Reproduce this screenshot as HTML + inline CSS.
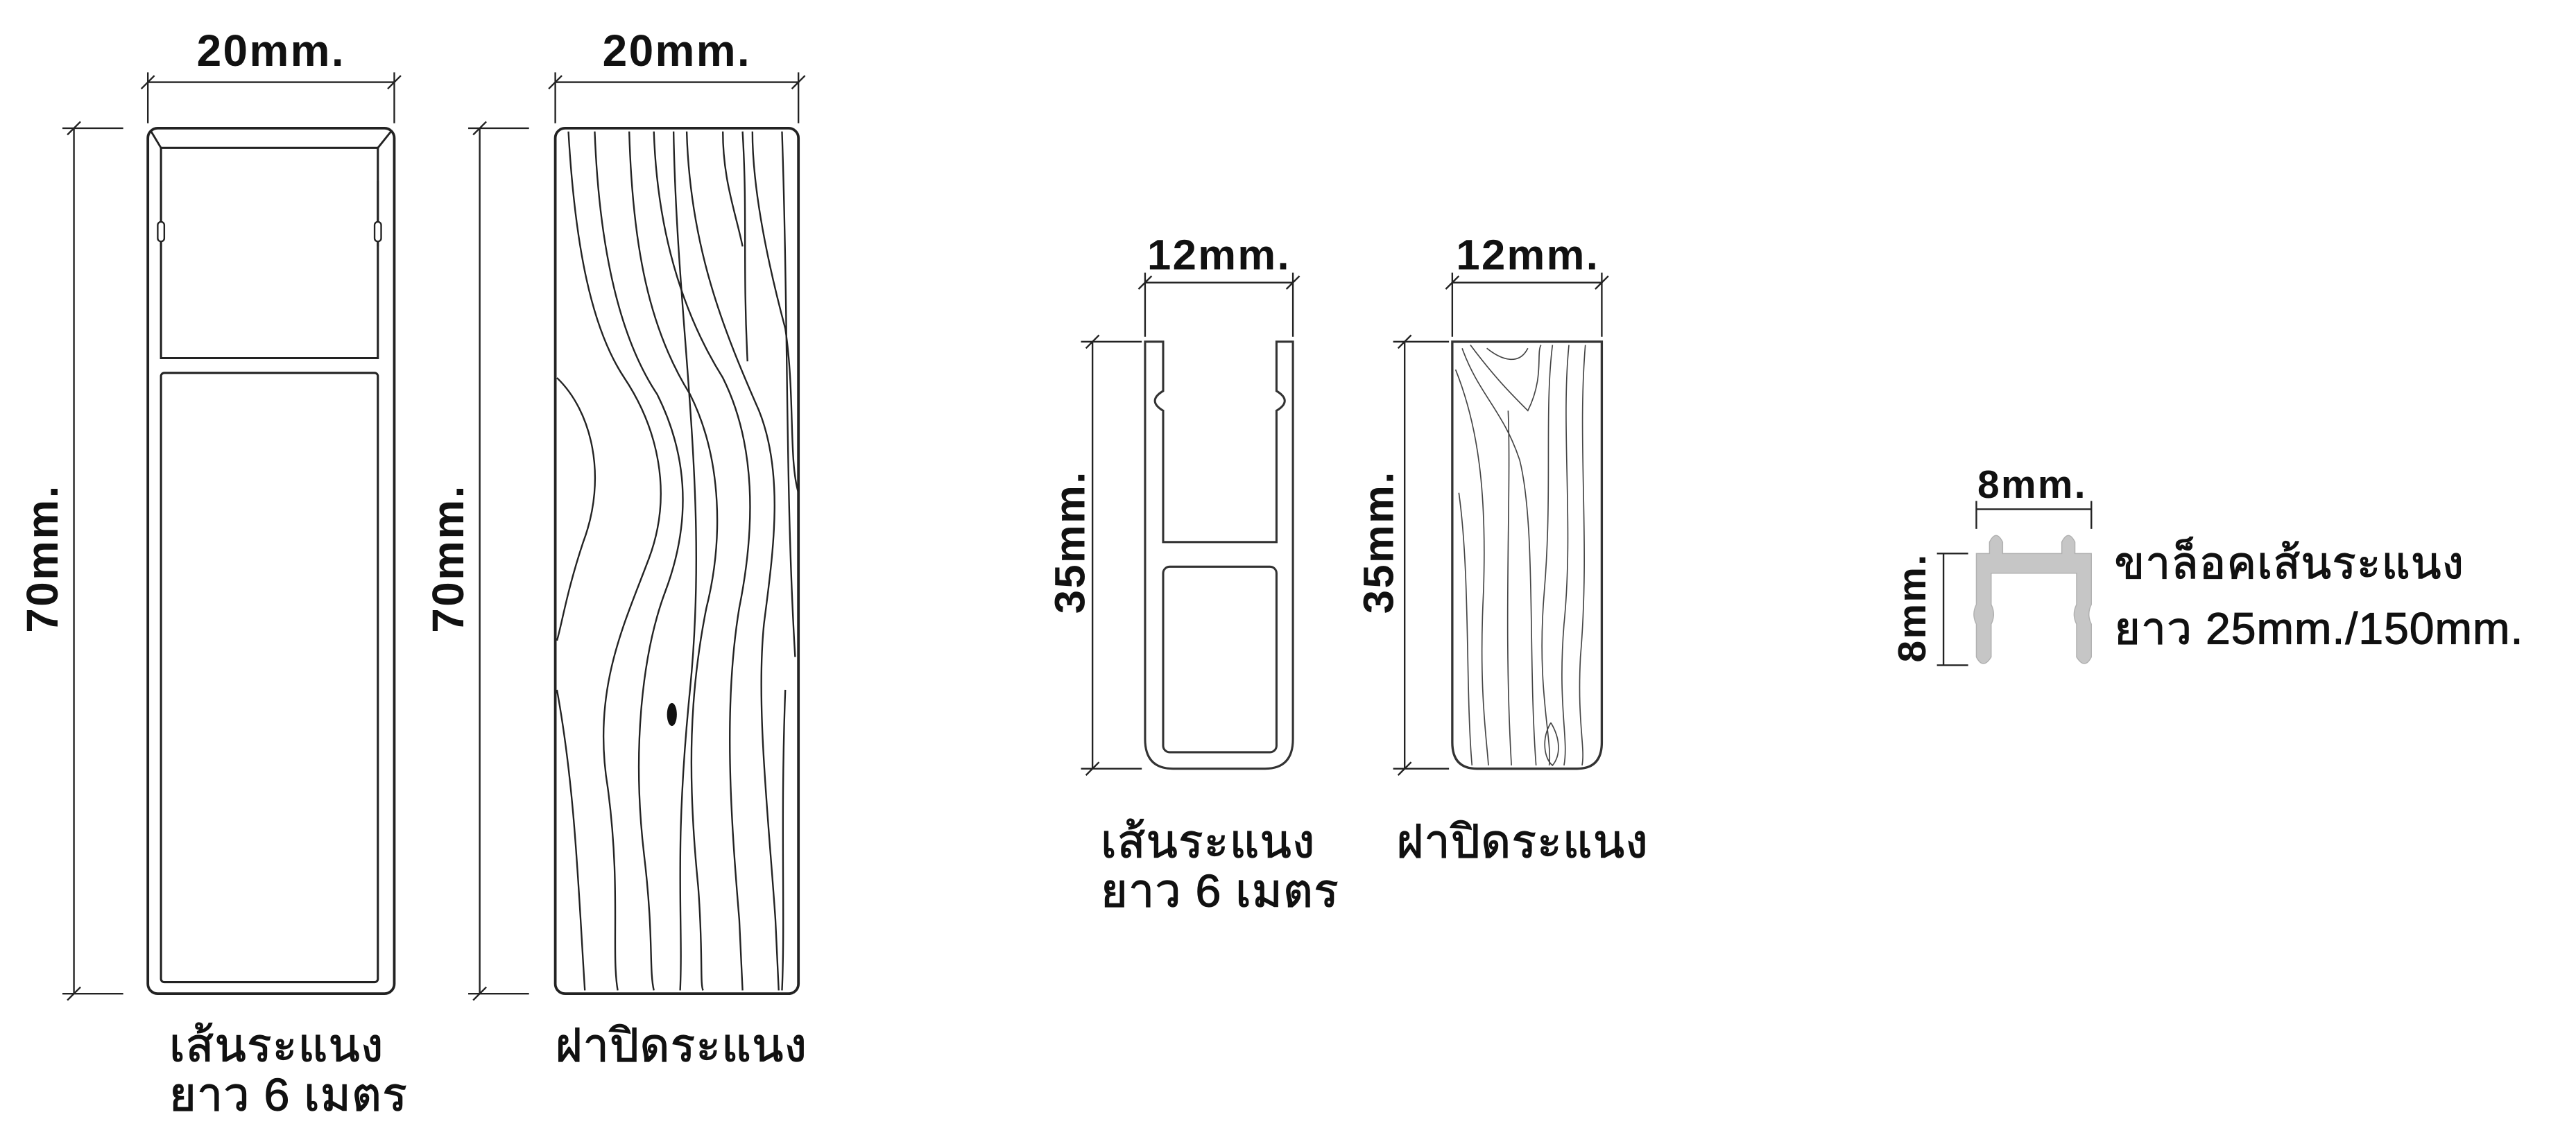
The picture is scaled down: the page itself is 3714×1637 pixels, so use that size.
<!DOCTYPE html>
<html><head><meta charset="utf-8"><style>
html,body{margin:0;padding:0;background:#fff;}
svg{display:block;}
text{font-family:"Liberation Sans","Noto Sans CJK SC","WenQuanYi Zen Hei",sans-serif;fill:#111;font-weight:bold;letter-spacing:1px;}
.t{font-weight:normal;stroke:#111;stroke-width:0.5;letter-spacing:0.5px;}
</style></head><body>
<svg width="3714" height="1637" viewBox="0 0 1568 691" xmlns="http://www.w3.org/2000/svg">
<g stroke="#222" stroke-width="1" fill="none">
<line x1="90" y1="50" x2="240" y2="50"/><line x1="90" y1="44" x2="90" y2="75"/><line x1="240" y1="44" x2="240" y2="75"/>
<line x1="86" y1="54" x2="94" y2="46"/><line x1="236" y1="54" x2="244" y2="46"/>
<line x1="45" y1="78" x2="45" y2="605"/><line x1="38" y1="78" x2="75" y2="78"/><line x1="38" y1="605" x2="75" y2="605"/>
<line x1="41" y1="82" x2="49" y2="74"/><line x1="41" y1="609" x2="49" y2="601"/>
<line x1="338" y1="50" x2="486" y2="50"/><line x1="338" y1="44" x2="338" y2="75"/><line x1="486" y1="44" x2="486" y2="75"/>
<line x1="334" y1="54" x2="342" y2="46"/><line x1="482" y1="54" x2="490" y2="46"/>
<line x1="292" y1="78" x2="292" y2="605"/><line x1="285" y1="78" x2="322" y2="78"/><line x1="285" y1="605" x2="322" y2="605"/>
<line x1="288" y1="82" x2="296" y2="74"/><line x1="288" y1="609" x2="296" y2="601"/>
<line x1="697" y1="172" x2="787" y2="172"/><line x1="697" y1="166" x2="697" y2="205"/><line x1="787" y1="166" x2="787" y2="205"/>
<line x1="693" y1="176" x2="701" y2="168"/><line x1="783" y1="176" x2="791" y2="168"/>
<line x1="665" y1="208" x2="665" y2="468"/><line x1="658" y1="208" x2="695" y2="208"/><line x1="658" y1="468" x2="695" y2="468"/>
<line x1="661" y1="212" x2="669" y2="204"/><line x1="661" y1="472" x2="669" y2="464"/>
<line x1="884" y1="172" x2="975" y2="172"/><line x1="884" y1="166" x2="884" y2="205"/><line x1="975" y1="166" x2="975" y2="205"/>
<line x1="880" y1="176" x2="888" y2="168"/><line x1="971" y1="176" x2="979" y2="168"/>
<line x1="855" y1="208" x2="855" y2="468"/><line x1="848" y1="208" x2="882" y2="208"/><line x1="848" y1="468" x2="882" y2="468"/>
<line x1="851" y1="212" x2="859" y2="204"/><line x1="851" y1="472" x2="859" y2="464"/>
<line x1="1203" y1="310" x2="1273" y2="310"/><line x1="1203" y1="305" x2="1203" y2="322"/><line x1="1273" y1="305" x2="1273" y2="322"/>
<line x1="1183" y1="337" x2="1183" y2="405"/><line x1="1179" y1="337" x2="1198" y2="337"/><line x1="1179" y1="405" x2="1198" y2="405"/>
</g>
<g stroke="#222" stroke-width="1.6" fill="#fff">
<rect x="90" y="78" width="150" height="527" rx="6"/>
<path d="M98 90 H230 V218 H98 Z" stroke-width="1.3"/>
<rect x="98" y="227" width="132" height="371" rx="2" stroke-width="1.3"/>
<path d="M92 80 L98 90 M238 80 L230 90 M98 110 V150 M230 110 V150" stroke-width="1.2" fill="none"/>
<rect x="96" y="135" width="4" height="12" rx="2" stroke-width="1"/>
<rect x="228" y="135" width="4" height="12" rx="2" stroke-width="1"/>
</g>
<g stroke="#222" stroke-width="1.6" fill="#fff"><rect x="338" y="78" width="148" height="527" rx="6"/></g>
<g stroke="#222" stroke-width="1" fill="none">
<path d="M346 80 C350 150 360 200 380 230 C400 260 410 300 395 340 C380 380 360 420 370 480 C378 540 372 580 376 603"/>
<path d="M362 80 C365 160 380 210 400 240 C420 280 420 320 405 360 C390 400 385 460 392 520 C398 570 395 590 398 603"/>
<path d="M383 80 C385 150 395 200 420 240 C440 280 440 330 430 370 C420 420 418 470 425 540 C428 580 426 600 428 603"/>
<path d="M398 80 C400 140 415 190 440 230 C460 270 460 320 450 370 C440 430 445 500 450 560 L452 603"/>
<path d="M418 80 C420 150 440 200 462 250 C478 290 470 340 465 380 C460 430 468 500 472 560 L474 603"/>
<path d="M440 80 C440 110 448 130 452 150 M458 80 C458 120 470 170 478 200 C484 240 480 280 486 300"/>
<path d="M452 80 C455 130 452 160 455 220"/>
<path d="M339 230 C360 250 370 290 355 330 C345 360 342 380 339 390"/>
<path d="M339 420 C350 480 352 540 356 603"/>
<path d="M476 80 C480 200 478 300 484 400 M478 420 C475 500 478 560 476 603"/>
<path d="M410 80 C412 200 432 300 420 420 C410 520 416 560 414 603"/>
</g>
<ellipse cx="409" cy="435" rx="3" ry="7" fill="#111"/>
<g stroke="#333" stroke-width="1.3" fill="#fff">
<path d="M697 208 H708 V238 Q703 241 703 244 Q703 247 708 250 V330 H777 V250 Q782 247 782 244 Q782 241 777 238 V208 H787 V450 Q787 468 770 468 H714 Q697 468 697 450 Z"/>
<rect x="708" y="345" width="69" height="113" rx="4"/>
</g>
<g stroke="#333" stroke-width="1.4" fill="#fff"><path d="M884 208 H975 V452 Q975 468 960 468 H899 Q884 468 884 452 Z"/></g>
<g stroke="#444" stroke-width="0.7" fill="none">
<path d="M890 212 C900 240 915 250 925 280 C935 320 930 400 935 466"/>
<path d="M886 225 C900 260 905 300 903 360 C900 420 905 450 906 466"/>
<path d="M895 210 C910 230 920 240 930 250 C940 230 935 215 938 210"/>
<path d="M905 212 C915 220 925 222 930 212"/>
<path d="M945 210 C940 250 945 300 940 360 C935 420 945 450 943 466"/>
<path d="M955 210 C950 260 958 320 952 380 C948 430 955 450 952 466"/>
<path d="M965 210 C960 270 968 330 962 400 C960 440 965 455 963 466"/>
<path d="M918 250 C920 300 915 380 920 466"/>
<path d="M888 300 C895 350 892 420 896 466"/>
<path d="M944 440 C938 450 940 462 945 466 C950 460 950 450 944 440"/>
</g>
<path d="M1203 337 H1211 V330 Q1215 322 1219 330 V337 H1255 V330 Q1259 322 1263 330 V337 H1273 V368 Q1270 374 1273 380 V400 Q1269 408 1264 400 V380 Q1261 374 1264 368 V349 H1212 V368 Q1215 374 1212 380 V400 Q1207 408 1203 400 V380 Q1200 374 1203 368 Z" fill="#c6c6c6" stroke="#b0b0b0" stroke-width="0.6"/>
<text x="165" y="40" font-size="27" text-anchor="middle">20mm.</text>
<text x="412" y="40" font-size="27" text-anchor="middle">20mm.</text>
<text transform="translate(35 340) rotate(-90)" font-size="27" text-anchor="middle">70mm.</text>
<text transform="translate(282 340) rotate(-90)" font-size="27" text-anchor="middle">70mm.</text>
<text x="742" y="164" font-size="26" text-anchor="middle">12mm.</text>
<text x="930" y="164" font-size="26" text-anchor="middle">12mm.</text>
<text transform="translate(660 330) rotate(-90)" font-size="26" text-anchor="middle">35mm.</text>
<text transform="translate(848 330) rotate(-90)" font-size="26" text-anchor="middle">35mm.</text>
<text x="1237" y="303" font-size="24" text-anchor="middle">8mm.</text>
<text transform="translate(1172 370) rotate(-90)" font-size="24" text-anchor="middle">8mm.</text>
<text class="t" x="103" y="646" font-size="28">เส้นระแนง</text>
<text class="t" x="103" y="676" font-size="28">ยาว 6 เมตร</text>
<text class="t" x="338" y="646" font-size="28">ฝาปิดระแนง</text>
<text class="t" x="670" y="522" font-size="28">เส้นระแนง</text>
<text class="t" x="670" y="552" font-size="28">ยาว 6 เมตร</text>
<text class="t" x="850" y="522" font-size="28">ฝาปิดระแนง</text>
<text class="t" x="1287" y="352" font-size="27">ขาล็อคเส้นระแนง</text>
<text class="t" x="1287" y="392" font-size="27">ยาว 25mm./150mm.</text>
</svg>
</body></html>
